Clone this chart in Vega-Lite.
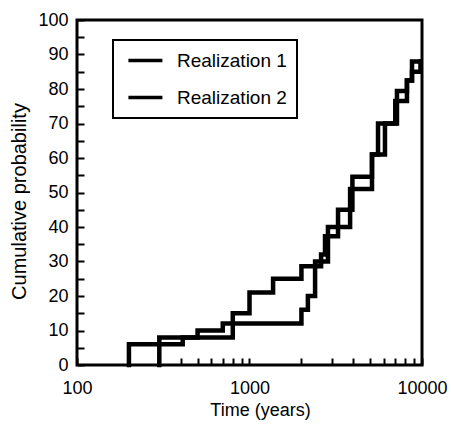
{
  "$schema": "https://vega.github.io/schema/vega-lite/v6.json",
  "width": 345,
  "height": 345,
  "autosize": {"type": "none"},
  "padding": {"left": 77, "top": 20, "right": 29, "bottom": 59},
  "background": "white",
  "config": {
    "font": "Liberation Sans",
    "view": {"stroke": "black", "strokeWidth": 3},
    "axis": {"domain": false, "grid": false, "ticks": true, "tickColor": "black", "tickWidth": 2, "tickOpacity": 1, "labelColor": "black", "titleColor": "black", "labelFlush": false, "labelOverlap": false, "titleFontWeight": "normal", "zindex": 1}
  },
  "data": {
    "values": [
      {"series": "Realization 1", "i": 0, "t": 200, "p": 0},
      {"series": "Realization 1", "i": 1, "t": 200, "p": 6},
      {"series": "Realization 1", "i": 2, "t": 410, "p": 8},
      {"series": "Realization 1", "i": 3, "t": 800, "p": 12},
      {"series": "Realization 1", "i": 4, "t": 2000, "p": 16},
      {"series": "Realization 1", "i": 5, "t": 2180, "p": 20},
      {"series": "Realization 1", "i": 6, "t": 2400, "p": 28.6},
      {"series": "Realization 1", "i": 7, "t": 2600, "p": 32},
      {"series": "Realization 1", "i": 8, "t": 2740, "p": 37.3},
      {"series": "Realization 1", "i": 9, "t": 3260, "p": 45},
      {"series": "Realization 1", "i": 10, "t": 3950, "p": 54.6},
      {"series": "Realization 1", "i": 11, "t": 5130, "p": 61},
      {"series": "Realization 1", "i": 12, "t": 5560, "p": 70},
      {"series": "Realization 1", "i": 13, "t": 7160, "p": 79.4},
      {"series": "Realization 1", "i": 14, "t": 8180, "p": 82.5},
      {"series": "Realization 1", "i": 15, "t": 8750, "p": 88},
      {"series": "Realization 1", "i": 16, "t": 9800, "p": 88},
      {"series": "Realization 2", "i": 0, "t": 300, "p": 0},
      {"series": "Realization 2", "i": 1, "t": 300, "p": 8},
      {"series": "Realization 2", "i": 2, "t": 500, "p": 10},
      {"series": "Realization 2", "i": 3, "t": 700, "p": 12},
      {"series": "Realization 2", "i": 4, "t": 800, "p": 15},
      {"series": "Realization 2", "i": 5, "t": 1000, "p": 21},
      {"series": "Realization 2", "i": 6, "t": 1370, "p": 25},
      {"series": "Realization 2", "i": 7, "t": 2000, "p": 28.6},
      {"series": "Realization 2", "i": 8, "t": 2400, "p": 30},
      {"series": "Realization 2", "i": 9, "t": 2850, "p": 40},
      {"series": "Realization 2", "i": 10, "t": 3830, "p": 51},
      {"series": "Realization 2", "i": 11, "t": 5130, "p": 61},
      {"series": "Realization 2", "i": 12, "t": 6100, "p": 70},
      {"series": "Realization 2", "i": 13, "t": 7000, "p": 76.5},
      {"series": "Realization 2", "i": 14, "t": 8180, "p": 82.5},
      {"series": "Realization 2", "i": 15, "t": 8750, "p": 85},
      {"series": "Realization 2", "i": 16, "t": 9800, "p": 88}
    ]
  },
  "mark": {"type": "line", "interpolate": "step-after", "strokeWidth": 4.5, "strokeCap": "square", "strokeJoin": "miter"},
  "encoding": {
    "x": {
      "field": "t", "type": "quantitative",
      "scale": {"type": "log", "domain": [100, 10000], "nice": false},
      "axis": {
        "title": "Time (years)",
        "values": [100, 200, 300, 400, 500, 600, 700, 800, 900, 1000, 2000, 3000, 4000, 5000, 6000, 7000, 8000, 9000, 10000],
        "labelExpr": "datum.value == 100 || datum.value == 1000 || datum.value == 10000 ? format(datum.value, 'd') : ''",
        "tickSize": -7, "labelFontSize": 18, "labelPadding": 21, "titleFontSize": 18, "titlePadding": 4, "titleX": 183
      }
    },
    "y": {
      "field": "p", "type": "quantitative",
      "scale": {"domain": [0, 100], "nice": false},
      "axis": {
        "title": "Cumulative probability",
        "values": [0, 5, 10, 15, 20, 25, 30, 35, 40, 45, 50, 55, 60, 65, 70, 75, 80, 85, 90, 95, 100],
        "labelExpr": "datum.value % 10 == 0 ? datum.label : ''",
        "tickSize": -7, "labelFontSize": 18, "labelPadding": 16, "titleFontSize": 20, "titlePadding": 8, "titleY": 181
      }
    },
    "color": {
      "field": "series", "type": "nominal",
      "scale": {"range": ["black", "black"]},
      "legend": {
        "title": null, "orient": "none", "legendX": 36, "legendY": 20,
        "direction": "vertical",
        "symbolType": "M-0.6,0H3.4", "symbolSize": 289, "symbolStrokeWidth": 3.5, "symbolStrokeColor": "black",
        "labelFontSize": 19, "labelColor": "black", "labelOffset": 33,
        "rowPadding": 16, "padding": 10,
        "strokeColor": "black", "fillColor": "white",
        "zindex": 2,
        "encode": {"legend": {"update": {"strokeWidth": {"value": 2}}}}
      }
    },
    "order": {"field": "i"}
  }
}
